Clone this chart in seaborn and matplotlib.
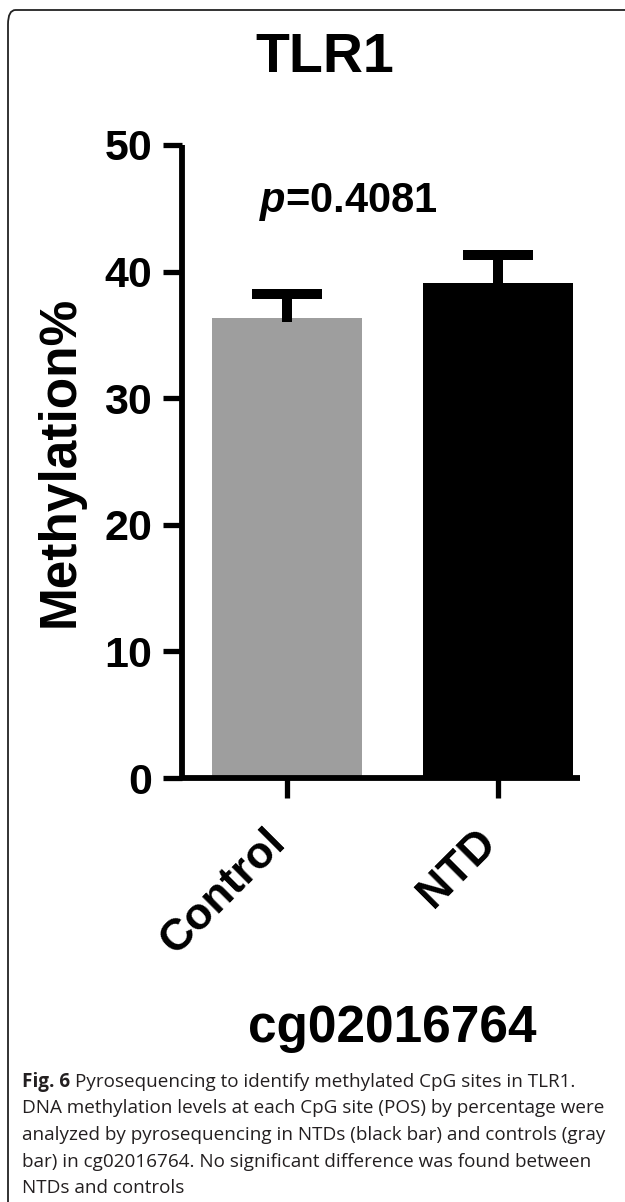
import numpy as np
import pandas as pd
import seaborn as sns
import matplotlib.pyplot as plt
from matplotlib.patches import FancyBboxPatch

sns.set_theme(style='white')
plt.rcParams['font.family'] = ['Liberation Sans', 'DejaVu Sans']
plt.rcParams['mathtext.fontset'] = 'custom'
plt.rcParams['mathtext.it'] = 'Liberation Sans:bold:italic'
plt.rcParams['mathtext.rm'] = 'Liberation Sans:bold'
for k in ['text.color', 'axes.labelcolor', 'xtick.color', 'ytick.color']:
    plt.rcParams[k] = 'black'

# data
groups = ['Control', 'NTD']
means = [36.3, 39.1]
sems = [1.9, 2.2]
bar_colors = ['#9e9e9e', '#000000']
yticks = [0, 10, 20, 30, 40, 50]
title = 'TLR1'
site = 'cg02016764'
p_text = '$p$=0.4081'
caption_lines = [
    'Pyrosequencing to identify methylated CpG sites in TLR1.',
    'DNA methylation levels at each CpG site (POS) by percentage were',
    'analyzed by pyrosequencing in NTDs (black bar) and controls (gray',
    'bar) in cg02016764. No significant difference was found between',
    'NTDs and controls',
]

W, H = 625, 1202
fig = plt.figure(figsize=(W / 100, H / 100), dpi=100)
fig.patch.set_facecolor('white')

# rounded frame around panel (runs off the right/bottom edge)
frame = FancyBboxPatch((8 / W, -0.05), 1.1, 1 - 10 / H + 0.05,
                       boxstyle='round,pad=0,rounding_size=0.012',
                       transform=fig.transFigure, fill=False,
                       edgecolor='#222222', linewidth=1.3)
fig.patches.append(frame)

ax = fig.add_axes([182 / W, 1 - 778 / H, 398 / W, 633 / H])
df = pd.DataFrame({'group': groups, 'mean': means})
sns.barplot(data=df, x='group', y='mean', hue='group', palette=bar_colors,
            width=0.71, errorbar=None, legend=False, ax=ax, linewidth=0)

# upward-only error bars (GraphPad style)
xs = np.arange(len(groups))
tops = np.array(means) + np.array(sems)
ax.vlines(xs, np.array(means) - 0.3, tops, color='black', linewidth=7.2)
ax.hlines(tops, xs - 0.164, xs + 0.164, color='black', linewidth=7.2)

ax.set_xlim(-0.498, 1.389)
ax.set_ylim(0, 50)
ax.set_yticks(yticks)
ax.set_yticklabels([str(t) for t in yticks], fontsize=31, fontweight='bold')
for s in ['top', 'right']:
    ax.spines[s].set_visible(False)
for s in ['left', 'bottom']:
    ax.spines[s].set_linewidth(4.2)
    ax.spines[s].set_color('black')
    ax.spines[s].set_capstyle('butt')
ax.tick_params(axis='y', length=13.5, width=3.8, pad=8, color='black', left=True)
ax.tick_params(axis='x', length=14.5, width=3.8, pad=33, color='black', bottom=True)
ax.set_xticks(xs)
ax.set_xticklabels(groups, fontsize=32, fontweight='bold', rotation=45,
                   ha='right', va='baseline', rotation_mode='anchor')

ax.set_ylabel('Methylation%', fontsize=37, fontweight='bold')
ax.yaxis.set_label_coords((85 - 182) / 398, 0.5)
ax.set_xlabel(site, fontsize=37, fontweight='bold')
ax.xaxis.label.set_va('baseline')
ax.xaxis.set_label_coords((392 - 182) / 398, (778 - 1042) / 633)
ax.set_facecolor('none')

fig.text(325 / W, 1 - 72 / H, title, ha='center', va='baseline',
         fontsize=40, fontweight='bold')
fig.text(348 / W, 1 - 212 / H, p_text, ha='center', va='baseline',
         fontsize=30, fontweight='bold')

# caption
cap_kw = dict(family=['Open Sans', 'DejaVu Sans'], fontsize=13.6, color='#231f20', va='baseline')
x0 = 22 / W
base = [1087, 1113, 1140, 1167, 1193]
t = fig.text(x0, 1 - base[0] / H, 'Fig. 6', fontweight='bold', **cap_kw)
r = fig.canvas.get_renderer()
bb = t.get_window_extent(renderer=r)
fig.text((bb.x1 + 5) / W, 1 - base[0] / H, caption_lines[0], **cap_kw)
for line, yb in zip(caption_lines[1:], base[1:]):
    fig.text(x0, 1 - yb / H, line, **cap_kw)

fig.savefig('out.png', dpi=100)
